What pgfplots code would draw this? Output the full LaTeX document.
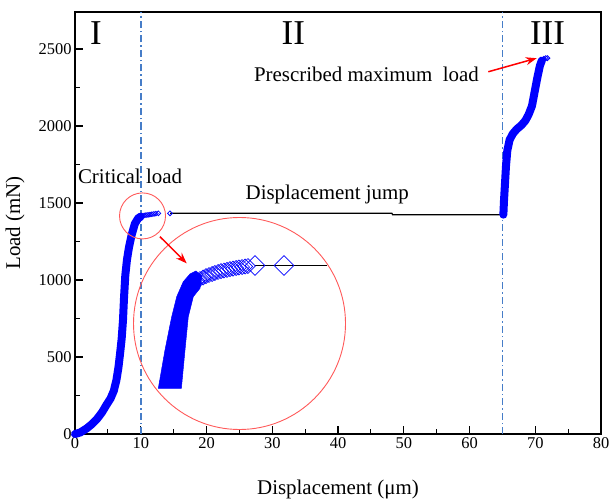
\documentclass[border=0pt]{standalone}
\usepackage{pgfplots}
\pgfplotsset{compat=1.18}
\usetikzlibrary{arrows.meta}
\usepackage{fontspec}
\setmainfont{Liberation Serif}
\definecolor{vline}{RGB}{70,125,200}
\definecolor{circred}{RGB}{255,90,90}
\begin{document}
\begin{tikzpicture}
\begin{axis}[
  scale only axis, width=526bp, height=422bp,
  xmin=0, xmax=80, ymin=0, ymax=2740,
  xtick={0,10,...,80}, ytick={0,500,...,2500},
  minor x tick num=1, minor y tick num=1,
  tick align=inside, major tick length=8bp, minor tick length=5bp,
  xtick pos=bottom, ytick pos=left,
  axis line style={line width=1.2bp},
  tick style={line width=1.2bp, black},
  tick label style={font=\fontsize{16.5}{18}\selectfont},
  /pgf/number format/assume math mode=true,
  scaled y ticks=false,
  y tick label style={/pgf/number format/set thousands separator={}},
  xlabel={Displacement (μm)}, ylabel={Load (mN)},
  label style={font=\fontsize{21}{24}\selectfont},
  xlabel style={at={(axis description cs:0.5,0)}, anchor=base, yshift=-60bp},
  ylabel style={at={(axis description cs:0,0.5)}, anchor=center, yshift=60bp},
  clip=false,
]
% vertical dash-dot lines
\addplot[vline, line width=1.5bp, dash pattern=on 7bp off 3bp on 1.5bp off 3bp] coordinates {(10,0) (10,2740)};
\addplot[vline, line width=1.5bp, dash pattern=on 7bp off 3bp on 1.5bp off 3bp] coordinates {(65,0) (65,2740)};

% displacement jump line
\addplot[black, line width=1.2bp] coordinates {(14.45,1433) (48.2,1433) (48.3,1424) (65.15,1424)};

% stage I
\addplot[blue, line width=8bp, line join=round, line cap=round] coordinates {
(0,0) (0.8,10) (1.8,37) (2.6,65) (3.3,95) (4.1,140) (4.8,190) (5.4,230) (5.9,280)
(6.3,350) (6.6,430) (6.85,520) (7.1,620) (7.3,740) (7.45,880) (7.65,1030) (7.9,1130)
(8.2,1210) (8.6,1290) (9.1,1365) (9.6,1400) (10.0,1412)};
\addplot[blue, only marks, mark=square, mark size=1.7bp,
  mark options={rotate=45, fill=white, line width=0.8bp}] coordinates {
(14.45,1433) (12.67,1433) (12.3,1431) (12.0,1429) (11.7,1427) (11.4,1425) (11.1,1423)
(10.8,1421) (10.5,1419) (10.2,1416)};

% stage III
\addplot[blue, line width=8bp, line join=round, line cap=round] coordinates {
(65.15,1424) (65.25,1520) (65.4,1628) (65.55,1740) (65.75,1840) (66.1,1910) (66.6,1950)
(67.2,1980) (67.9,2005) (68.5,2035) (69.0,2075) (69.5,2130) (69.9,2220) (70.3,2310)
(70.7,2390) (71.0,2425)};
\addplot[blue, only marks, mark=square, mark size=1.8bp,
  mark options={rotate=45, fill=white, line width=0.8bp}] coordinates {
(71.85,2440) (71.6,2440) (71.3,2436)};

% magnified view (inset)
\addplot[blue, fill=blue, line width=0.5bp] coordinates {
(12.67,296.7) (13.69,545.4) (14.71,761.6) (15.47,891.5) (16.47,988.9) (17.49,1038.9)
(18.40,1058.4) (19.32,1025.9) (19.01,946.0) (17.99,891.5) (17.23,761.6) (16.73,545.4)
(16.18,296.7)} -- cycle;
\addplot[black, line width=1.2bp] coordinates {(27.38,1094) (38.33,1094)};
\addplot[blue, only marks, mark=square, mark size=7bp,
  mark options={rotate=45, fill=white, line width=0.8bp}] coordinates {
(31.79,1094.1) (27.38,1094.1)};
\addplot[blue, only marks, mark=square, mark size=5.3bp,
  mark options={rotate=45, fill=white, line width=0.7bp}] coordinates {
(26.31,1090.8) (25.86,1087.6) (25.40,1084.3) (24.94,1081.1) (24.49,1077.9) (24.03,1074.0)
(23.57,1070.1) (23.12,1066.2) (22.66,1061.6) (22.21,1057.1) (21.75,1051.9) (21.29,1045.4)
(20.84,1038.9) (20.38,1032.4) (19.92,1024.6) (19.47,1016.2) (19.01,1006.4) (18.56,996.7)
(18.10,986.9)};

% circles
\draw[circred, line width=0.9bp] (axis cs:10.27,1416) circle[radius=23bp];
\draw[circred, line width=0.9bp] (axis cs:25.02,717.5) circle[radius=106bp];

% arrows
\draw[red, line width=1.5bp, -{Stealth[length=11bp,width=8bp]}] (axis cs:12.93,1281) -- (axis cs:16.99,1108);
\draw[red, line width=1.5bp, -{Stealth[length=11bp,width=8bp]}] (axis cs:62.86,2352) -- (axis cs:70.22,2440);

% texts
\node[anchor=base, font=\fontsize{35}{40}\selectfont] at (axis cs:3.17,2526) {I};
\node[anchor=base, font=\fontsize{35}{40}\selectfont] at (axis cs:33.2,2526) {II};
\node[anchor=base, font=\fontsize{35}{40}\selectfont] at (axis cs:71.86,2526) {III};
\node[anchor=base, font=\fontsize{21}{24}\selectfont] at (axis cs:44.33,2288) {Prescribed maximum \ load};
\node[anchor=base, font=\fontsize{21}{24}\selectfont] at (axis cs:8.37,1628) {Critical load};
\node[anchor=base, font=\fontsize{21}{24}\selectfont] at (axis cs:38.37,1521) {Displacement jump};

\coordinate (bl) at (rel axis cs:0,0);
\coordinate (tr) at (rel axis cs:1,1);
\end{axis}
\pgfresetboundingbox
\path ([xshift=-75bp,yshift=-65bp]bl) rectangle ([xshift=10bp,yshift=12bp]tr);
\end{tikzpicture}
\end{document}
